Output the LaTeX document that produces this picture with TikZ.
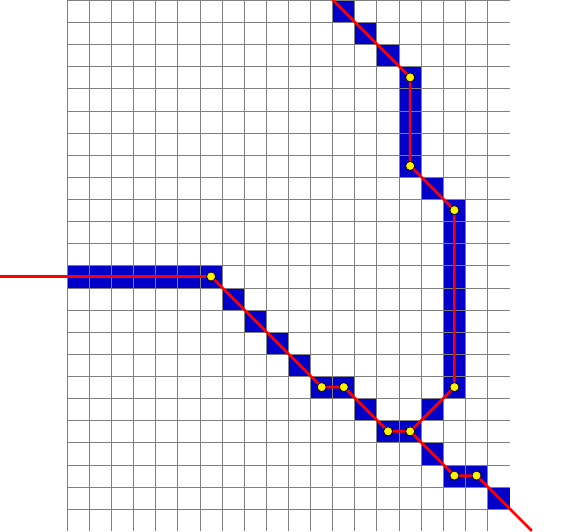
\documentclass[tikz,border=0pt]{standalone}
\begin{document}
\begin{tikzpicture}[x=1pt,y=-1pt,
 cellfill/.style={fill={rgb,255:red,0;green,0;blue,200}},
 gridline/.style={draw={rgb,255:red,128;green,128;blue,128}, line width=1pt},
 wire/.style={draw=red, line width=2.6pt, line join=round},
 joint/.style={circle, fill=yellow, draw=black, line width=0.7pt, minimum size=9pt, inner sep=0pt}]
\def\s{22.12}\def\xo{67.3}
\useasboundingbox (0,0) rectangle (577,531);
% blue cells
\foreach \c/\r in {12/0,13/1,14/2,15/3,15/4,15/5,15/6,15/7,16/8,
  17/9,17/10,17/11,17/12,17/13,17/14,17/15,17/16,17/17,16/18,14/19,15/19,
  0/12,1/12,2/12,3/12,4/12,5/12,6/12,7/13,8/14,9/15,10/16,11/17,12/17,13/18,
  16/20,17/21,18/21,19/22}
  \fill[cellfill] ({\xo+\c*\s},{\r*\s}) rectangle ++(\s,\s);
% grid
\foreach \c in {0,...,19}
  \draw[gridline] ({\xo+\c*\s},0) -- ({\xo+\c*\s},531);
\foreach \r in {0,...,23}
  \draw[gridline] (\xo,{\r*\s+0.5}) -- ({\xo+20*\s},{\r*\s+0.5});
% path points (cell centres)
\foreach \n/\c/\r in {a/6/12,b/11/17,c/12/17,d/14/19,e/15/19,f/17/17,g/17/9,h/15/7,i/15/3,j/17/21,k/18/21}
  \coordinate (\n) at ({\xo+(\c+0.5)*\s},{(\r+0.5)*\s});
\coordinate (L) at (0,{12.5*\s});
\coordinate (T) at ({\xo+12*\s},0);
\coordinate (BR) at ({\xo+21*\s},{24*\s});
% wires
\draw[wire] (L) -- (a) -- (b) -- (c) -- (d) -- (e) -- (f) -- (g) -- (h) -- (i) -- (T);
\draw[wire] (e) -- (j) -- (k) -- (BR);
% joints
\foreach \n in {a,b,c,d,e,f,g,h,i,j,k}
  \node[joint] (dot\n) at (\n) {};
\end{tikzpicture}
\end{document}
